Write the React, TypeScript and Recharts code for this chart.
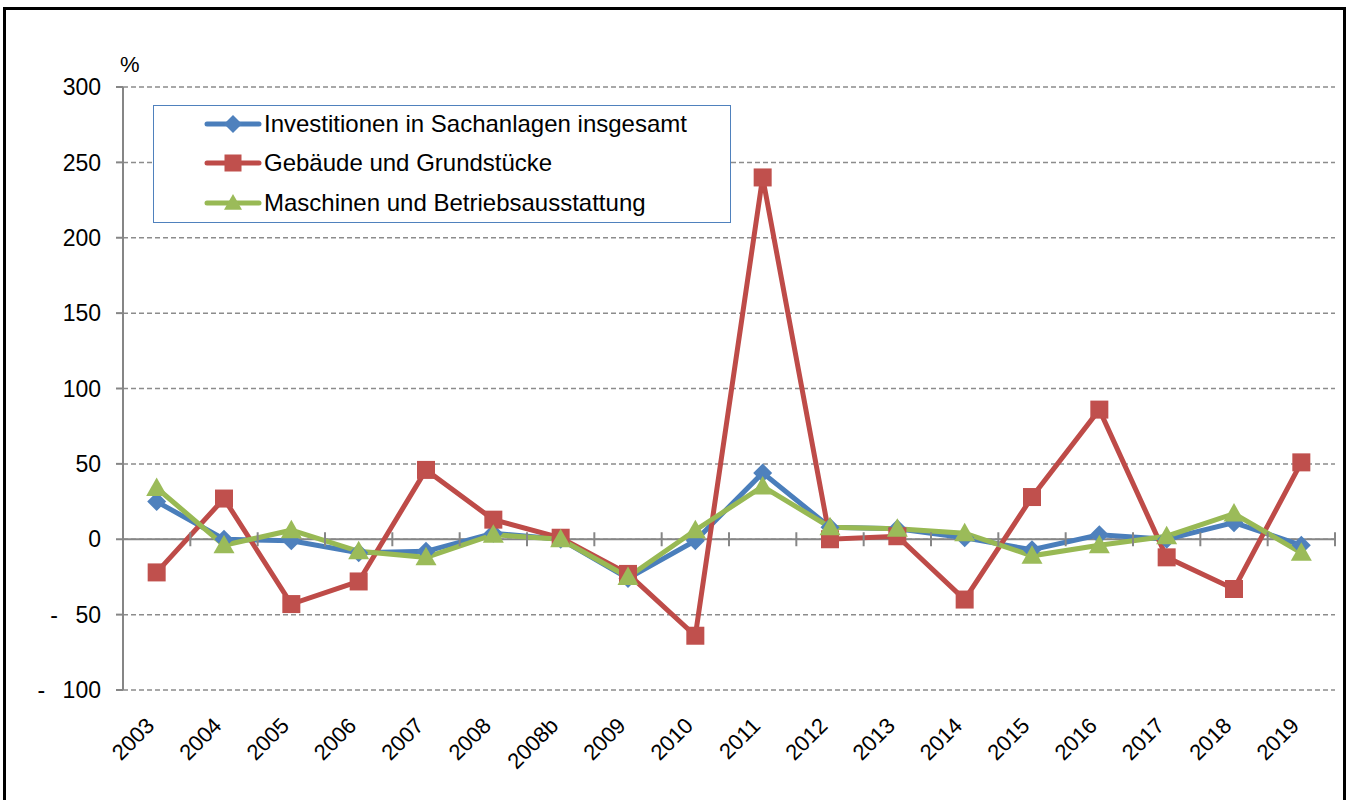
import React from 'react';
import { LineChart, Line, XAxis, YAxis, CartesianGrid, ReferenceLine, Legend } from 'recharts';

const years = ['2003', '2004', '2005', '2006', '2007', '2008', '2008b', '2009', '2010', '2011', '2012', '2013', '2014', '2015', '2016', '2017', '2018', '2019'];
const totalInvest = [25, 0, -1, -9, -8, 4, 0, -26, -1, 44, 8, 7, 1, -7, 3, 0, 11, -4];
const buildings = [-22, 27, -43, -28, 46, 13, 1, -23, -64, 240, 0, 2, -40, 28, 86, -12, -33, 51];
const machinery = [34, -4, 6, -8, -12, 3, 0, -25, 6, 35, 8, 7, 4, -11, -4, 2, 17, -9];
const yTicks = [-100, -50, 0, 50, 100, 150, 200, 250, 300];

const seriesNames = [
  'Investitionen in Sachanlagen insgesamt',
  'Gebäude und Grundstücke',
  'Maschinen und Betriebsausstattung',
];

const data = years.map((year, i) => ({
  year,
  total: totalInvest[i],
  buildings: buildings[i],
  machinery: machinery[i],
}));

const FONT = '"Liberation Sans", Arial, sans-serif';
const AXIS = '#868686';

// plot box (used for the little tick marks that sit on the zero line)
const W = 1349;
const H = 800;
const M = { top: 87, right: 14, bottom: 0, left: 0 };
const Y_AXIS_W = 123;
const X_AXIS_H = 110;
const plotTop = M.top;
const plotH = H - M.top - M.bottom - X_AXIS_H;
const plotW = W - M.left - M.right - Y_AXIS_W;
const zeroY = plotTop + (plotH * 300) / 400;
const band = plotW / years.length;

const Diamond = ({ cx, cy, fill, r = 9.5 }: any) => (
  <path d={`M${cx},${cy - r}L${cx + r},${cy}L${cx},${cy + r}L${cx - r},${cy}Z`} fill={fill} />
);
const Square = ({ cx, cy, fill, r = 9 }: any) => <rect x={cx - r} y={cy - r} width={2 * r} height={2 * r} fill={fill} />;
const Triangle = ({ cx, cy, fill, r = 10.5 }: any) => (
  <path d={`M${cx},${cy - r}L${cx + r},${cy + r * 0.76}L${cx - r},${cy + r * 0.76}Z`} fill={fill} />
);

const markers = [
  { line: '#4A7EBB', fill: '#4F81BD', Shape: Diamond },
  { line: '#BE4B48', fill: '#C0504D', Shape: Square },
  { line: '#98B954', fill: '#9BBB59', Shape: Triangle },
];

const XTick = (props: any) => {
  const { x, y, payload, index } = props;
  const left = x - band / 2;
  const ax = x - 1;
  const ay = y + 37;
  return (
    <g>
      <line x1={left} x2={left} y1={zeroY - 7} y2={zeroY + 7} stroke={AXIS} strokeWidth={2} />
      {index === years.length - 1 && (
        <line x1={x + band / 2} x2={x + band / 2} y1={zeroY - 7} y2={zeroY + 7} stroke={AXIS} strokeWidth={2} />
      )}
      <text
        x={ax}
        y={ay}
        transform={`rotate(-45 ${ax} ${ay})`}
        textAnchor="end"
        fontSize={22}
        fontFamily={FONT}
        fill="#000"
      >
        {payload.value}
      </text>
    </g>
  );
};

const fmtY = (v: number) => (v < 0 ? `-\u00A0\u00A0\u2009${Math.abs(v)}` : `${v}`);

const LegendBox = () => (
  <div
    style={{
      width: 578,
      height: 118,
      boxSizing: 'border-box',
      border: '1.5px solid #4F81BD',
      background: '#fff',
      fontFamily: FONT,
      fontSize: 24,
      color: '#000',
    }}
  >
    <div style={{ marginTop: -2 }}>
      {seriesNames.map((name, i) => {
        const { line, fill, Shape } = markers[i];
        return (
          <div key={name} style={{ height: 39.5, display: 'flex', alignItems: 'center' }}>
            <svg width={58} height={24} style={{ marginLeft: 50, marginRight: 2 }}>
              <line x1={3} x2={55} y1={12} y2={12} stroke={line} strokeWidth={5} strokeLinecap="round" />
              <Shape cx={29} cy={12} fill={fill} r={Shape === Square ? 8.5 : 9} />
            </svg>
            <span style={{ whiteSpace: 'nowrap' }}>{name}</span>
          </div>
        );
      })}
    </div>
  </div>
);

export default function App() {
  return (
    <div style={{ position: 'absolute', left: 0, top: 0, width: W, height: H, overflow: 'hidden', background: '#fff' }}>
      <div
        style={{
          position: 'absolute',
          left: 3,
          top: 7,
          width: 1343,
          height: 900,
          boxSizing: 'border-box',
          border: '3px solid #000',
        }}
      />
      <div style={{ position: 'absolute', left: 120, top: 52, fontFamily: FONT, fontSize: 22 }}>%</div>
      <div style={{ position: 'absolute', left: 0, top: 0 }}>
        <LineChart width={W} height={H} data={data} margin={M}>
          <CartesianGrid horizontal vertical={false} stroke="#8C8C8C" strokeDasharray="5 3" strokeWidth={1.5} />
          <XAxis
            dataKey="year"
            axisLine={false}
            tickLine={false}
            tickSize={0}
            tickMargin={0}
            height={X_AXIS_H}
            interval={0}
            padding={{ left: band / 2, right: band / 2 }}
            tick={<XTick />}
          />
          <YAxis
            domain={[-100, 300]}
            ticks={yTicks}
            width={Y_AXIS_W}
            interval={0}
            axisLine={{ stroke: AXIS, strokeWidth: 2 }}
            tickLine={{ stroke: AXIS, strokeWidth: 2 }}
            tickSize={7}
            tickMargin={15}
            tickFormatter={fmtY}
            tick={{ fontSize: 23, fontFamily: FONT, fill: '#000' }}
          />
          <ReferenceLine y={0} stroke={AXIS} strokeWidth={2} />
          <Legend
            layout="vertical"
            align="center"
            verticalAlign="middle"
            wrapperStyle={{ left: 153, top: 105, width: 578, height: 118 }}
            content={() => <LegendBox />}
          />
          <Line
            dataKey="total"
            name={seriesNames[0]}
            stroke={markers[0].line}
            strokeWidth={5}
            isAnimationActive={false}
            dot={(p: any) => <Diamond key={`d${p.index}`} cx={p.cx} cy={p.cy} fill={markers[0].fill} />}
          />
          <Line
            dataKey="buildings"
            name={seriesNames[1]}
            stroke={markers[1].line}
            strokeWidth={5}
            isAnimationActive={false}
            dot={(p: any) => <Square key={`s${p.index}`} cx={p.cx} cy={p.cy} fill={markers[1].fill} />}
          />
          <Line
            dataKey="machinery"
            name={seriesNames[2]}
            stroke={markers[2].line}
            strokeWidth={5}
            isAnimationActive={false}
            dot={(p: any) => <Triangle key={`t${p.index}`} cx={p.cx} cy={p.cy} fill={markers[2].fill} />}
          />
        </LineChart>
      </div>
    </div>
  );
}
